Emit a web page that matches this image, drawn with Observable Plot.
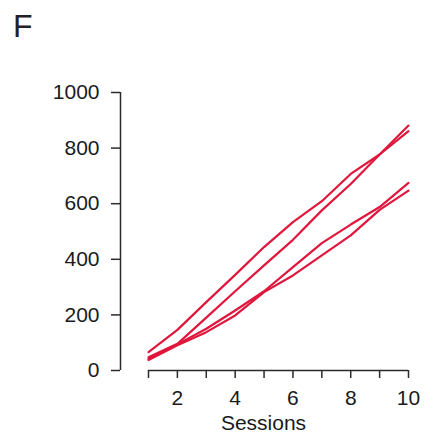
<!DOCTYPE html>
<html>
<head>
<meta charset="utf-8">
<script src="https://cdn.jsdelivr.net/npm/d3@7"></script>
<script src="https://cdn.jsdelivr.net/npm/@observablehq/plot@0.6"></script>
<style>
  body { margin: 0; background: #ffffff; }
  #wrap { position: relative; width: 436px; height: 436px; font-family: "Liberation Sans", Arial, Helvetica, sans-serif; }
  #panel { position: absolute; left: 13px; top: 10px; font-size: 32px; line-height: 1; color: #222; }
  #chart { position: absolute; left: 0; top: 0; }
</style>
</head>
<body>
<div id="wrap">
  <div id="chart"></div>
  <div id="panel">F</div>
</div>
<script>
// Data
const sessions = [1, 2, 3, 4, 5, 6, 7, 8, 9, 10];
const seriesA = [66, 146, 246, 344, 444, 534, 609, 707, 777, 861];
const seriesB = [48, 96, 190, 285, 378, 470, 576, 671, 777, 881];
const seriesC = [42, 94, 150, 216, 285, 372, 458, 525, 588, 675];
const seriesD = [38, 91, 138, 198, 282, 342, 414, 486, 578, 647];
const seriesNames = ["A", "B", "C", "D"];
const yTicks = [0, 200, 400, 600, 800, 1000];
const xTicks = [1, 2, 3, 4, 5, 6, 7, 8, 9, 10];
const xTickLabels = [2, 4, 6, 8, 10];
const xLabel = "Sessions";

const lineColor = "#e0163c";
const axisColor = "#2b2b2b";

const allSeries = [seriesA, seriesB, seriesC, seriesD];
const rows = [];
allSeries.forEach((vals, i) => {
  vals.forEach((v, j) => rows.push({ series: seriesNames[i], session: sessions[j], value: v }));
});

const chart = Plot.plot({
  width: 436,
  height: 436,
  marginLeft: 148,
  marginRight: 28,
  marginTop: 92,
  marginBottom: 66,
  style: { fontFamily: "'Liberation Sans', Arial, Helvetica, sans-serif", fontSize: "21px", color: axisColor, background: "transparent" },
  x: { domain: [xTicks[0], xTicks[xTicks.length - 1]] },
  y: { domain: [yTicks[0], yTicks[yTicks.length - 1]] },
  marks: [
    // y axis (offset to the left, R style)
    Plot.ruleX([xTicks[0]], { y1: yTicks[0], y2: yTicks[yTicks.length - 1], dx: -28, stroke: axisColor, strokeWidth: 1.5 }),
    Plot.axisY(yTicks, { tickSize: 9, tickPadding: 12, dx: -28, strokeWidth: 1.5, fontSize: 21, label: null, fill: "#1a1a1a", tickFormat: d => String(d) }),
    // x axis
    Plot.ruleY([yTicks[0]], { x1: xTicks[0], x2: xTicks[xTicks.length - 1], stroke: axisColor, strokeWidth: 1.5 }),
    Plot.axisX(xTicks, { tickSize: 8, strokeWidth: 1.5, tickFormat: () => "", label: null }),
    Plot.axisX(xTickLabels, { tickSize: 0, tickPadding: 20, fontSize: 21, label: null, fill: "#1a1a1a", tickFormat: d => String(d) }),
    Plot.text([xLabel], { frameAnchor: "bottom", dx: -15, dy: 59, fontSize: 21, fill: "#1a1a1a" }),
    // data lines
    Plot.line(rows, { x: "session", y: "value", z: "series", stroke: lineColor, strokeWidth: 2.2, curve: "linear" })
  ]
});
document.getElementById("chart").appendChild(chart);
</script>
</body>
</html>
